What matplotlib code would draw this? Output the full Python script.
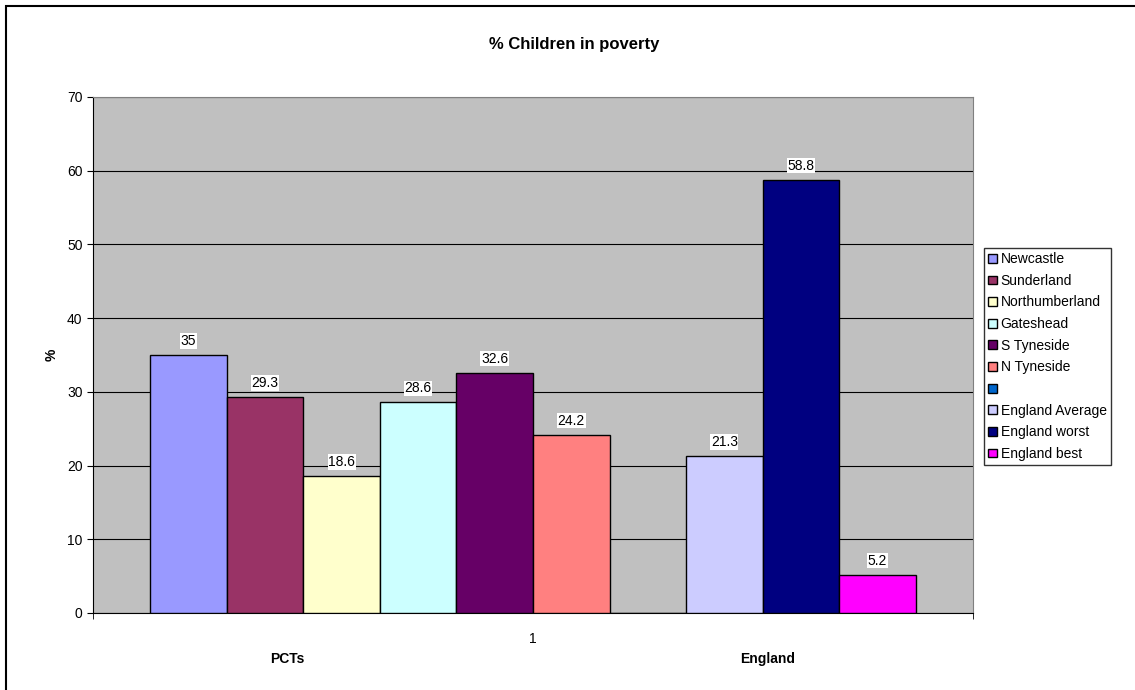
import numpy as np
import matplotlib.pyplot as plt
from matplotlib.patches import Rectangle

plt.rcParams['font.family'] = ['Liberation Sans', 'DejaVu Sans']

series = ['Newcastle', 'Sunderland', 'Northumberland', 'Gateshead', 'S Tyneside',
          'N Tyneside', '', 'England Average', 'England worst', 'England best']
values = [35, 29.3, 18.6, 28.6, 32.6, 24.2, None, 21.3, 58.8, 5.2]
colors = ['#9999FF', '#993366', '#FFFFCC', '#CCFFFF', '#660066',
          '#FF8080', '#0066CC', '#CCCCFF', '#000080', '#FF00FF']

W, H = 1135, 690
fig = plt.figure(figsize=(W / 100, H / 100), dpi=100)
ax = fig.add_axes([93 / W, 1 - 613 / H, 880 / W, 516 / H])
ax.set_facecolor('#C0C0C0')

# one category, ten series, gap width 150%
n = len(series)
bw = 1 / (n + 1.5)
x0 = -0.5 + 0.75 * bw
handles = []
for i, (name, v, c) in enumerate(zip(series, values, colors)):
    xc = x0 + (i + 0.5) * bw
    h = ax.bar(xc, v if v is not None else 0, width=bw, color=c, edgecolor='black',
               linewidth=1, zorder=3, label=name)
    handles.append(h)
    if v is not None:
        ax.annotate(f'{v:g}', (xc, v), xytext=(0, 5), textcoords='offset points',
                    ha='center', va='bottom', fontsize=10, zorder=4,
                    bbox=dict(boxstyle='square,pad=0.05', fc='white', ec='none'))

ax.set_xlim(-0.5, 0.5)
ax.set_ylim(0, 70)
ax.set_yticks(range(0, 71, 10))
ax.yaxis.grid(True, color='black', linewidth=0.8, zorder=0)
ax.set_xticks([0])
ax.set_xticklabels(['1'])
ax.set_xticks([-0.5, 0.5], minor=True)
ax.tick_params(axis='both', labelsize=10, length=4, color='black', direction='out')
ax.tick_params(axis='x', which='major', length=0, pad=14)
ax.tick_params(axis='x', which='minor', length=4)
for s in ['top', 'right']:
    ax.spines[s].set_color('#808080')
ax.spines['left'].set_color('black')
ax.spines['bottom'].set_color('black')

fig.text(52 / W, 1 - 355 / H, '%', ha='center', va='center', rotation=90,
         fontsize=10, fontweight='bold')
fig.text(574 / W, 1 - 45 / H, '% Children in poverty', ha='center', va='center',
         fontsize=12, fontweight='bold')
fig.text(287 / W, 1 - 659 / H, 'PCTs', ha='center', va='center', fontsize=10, fontweight='bold')
fig.text(768 / W, 1 - 659 / H, 'England', ha='center', va='center', fontsize=10, fontweight='bold')

leg = fig.legend(handles=handles, labels=series, loc='upper left',
                 bbox_to_anchor=(984 / W, 1 - 248 / H), fontsize=10, frameon=True,
                 fancybox=False, edgecolor='black', borderpad=0.3, handlelength=0.6,
                 handleheight=0.6, handletextpad=0.3, labelspacing=0.55, borderaxespad=0)
leg.get_frame().set_linewidth(1)

# chart area border
fig.patches.append(Rectangle((6 / W, -0.1), 1.2, 1 - 6 / H + 0.1, transform=fig.transFigure,
                             fill=False, edgecolor='black', linewidth=1.5))

fig.savefig('out.png', dpi=100)
